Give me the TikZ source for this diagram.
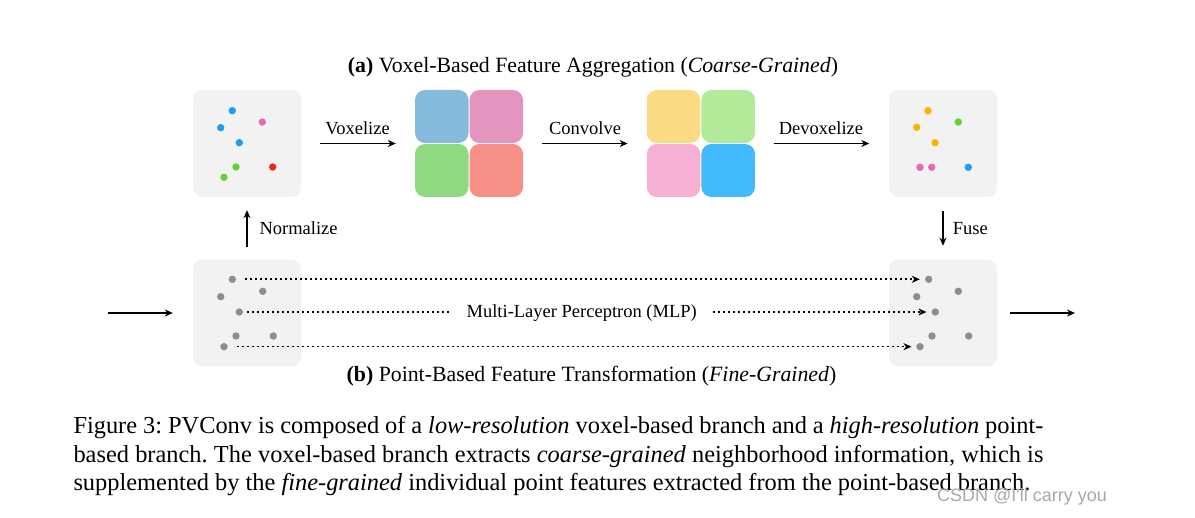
\documentclass[tikz,border=0pt]{standalone}
\usepackage{fontspec}
\setmainfont{Liberation Serif}
\newfontfamily\wmfont{Liberation Sans}
\usetikzlibrary{arrows.meta}
\frenchspacing
\definecolor{boxgray}{HTML}{F2F2F2}
\definecolor{dblue}{HTML}{1A9FF5}
\definecolor{dpink}{HTML}{EC67B0}
\definecolor{dgreen}{HTML}{62D334}
\definecolor{dred}{HTML}{EA2A15}
\definecolor{dorange}{HTML}{F7B500}
\definecolor{dgray}{HTML}{8E8E8E}
\definecolor{vA}{HTML}{84BADB}
\definecolor{vB}{HTML}{E495BF}
\definecolor{vC}{HTML}{8FD980}
\definecolor{vD}{HTML}{F69086}
\definecolor{wA}{HTML}{FADB84}
\definecolor{wB}{HTML}{B3EA9A}
\definecolor{wC}{HTML}{F7B0D5}
\definecolor{wD}{HTML}{43BAFE}
\definecolor{wmgray}{HTML}{A8A8A8}
\tikzset{
  panel/.style={rounded corners=9pt, fill=boxgray, minimum width=108pt, minimum height=107pt, inner sep=0pt},
  gridframe/.style={minimum width=108pt, minimum height=107pt, inner sep=0pt},
  cell/.style={rounded corners=10pt, minimum width=53.5pt, minimum height=53pt, inner sep=0pt},
  pdot/.style={circle, inner sep=0pt, minimum size=7.4pt},
  arr/.style={line width=1.5pt, -{Stealth[length=8pt,width=7pt]}},
  dotline/.style={line width=1.6pt, dash pattern=on 1.6pt off 3.4pt},
  dotarr/.style={dotline, -{Stealth[length=8pt,width=7pt]}},
  lbl/.style={font=\fontsize{18.5}{22}\selectfont, inner sep=0pt},
  ttl/.style={font=\fontsize{21.8}{26}\selectfont, inner sep=0pt},
  capt/.style={font=\fontsize{24.4}{29}\selectfont, inner sep=0pt},
  wm/.style={font=\wmfont\fontsize{18}{21}\selectfont, text=wmgray, inner sep=0pt}
}
\begin{document}
\begin{tikzpicture}[x=1pt,y=-1pt]
\useasboundingbox (0,0) rectangle (1195,518);
% titles
\node[ttl, anchor=base] (ta) at (593,72.3) {\textbf{(a)} Voxel-Based Feature Aggregation (\textit{Coarse-Grained})};
\node[ttl, anchor=base] (tb) at (591.5,382) {\textbf{(b)} Point-Based Feature Transformation (\textit{Fine-Grained})};
% panels
\node[panel] (tl) at (247,143.5) {};
\node[panel] (tr) at (943,143.5) {};
\node[panel] (bl) at (247,313) {};
\node[panel] (br) at (943,313) {};
% grids
\node[gridframe] (g1) at (469,143.5) {};
\node[cell, fill=vA] (g1a) at (441.75,116.5) {};
\node[cell, fill=vB] (g1b) at (496.25,116.5) {};
\node[cell, fill=vC] (g1c) at (441.75,170.5) {};
\node[cell, fill=vD] (g1d) at (496.25,170.5) {};
\node[gridframe] (g2) at (700.85,143.5) {};
\node[cell, fill=wA] (g2a) at (673.5,116.5) {};
\node[cell, fill=wB] (g2b) at (728.2,116.5) {};
\node[cell, fill=wC] (g2c) at (673.5,170.5) {};
\node[cell, fill=wD] (g2d) at (728.2,170.5) {};
% top-left dots
\node[pdot, fill=dblue] (a1) at (232.3,110.7) {};
\node[pdot, fill=dblue] (a2) at (220.7,127.7) {};
\node[pdot, fill=dpink] (a3) at (262.3,122) {};
\node[pdot, fill=dblue] (a4) at (239.3,142.7) {};
\node[pdot, fill=dgreen] (a5) at (236,167) {};
\node[pdot, fill=dred] (a6) at (272.7,167) {};
\node[pdot, fill=dgreen] (a7) at (224,177.3) {};
% top-right dots
\node[pdot, fill=dorange] (b1) at (928,110.7) {};
\node[pdot, fill=dorange] (b2) at (916.7,127.3) {};
\node[pdot, fill=dgreen] (b3) at (958.3,122) {};
\node[pdot, fill=dorange] (b4) at (935,142.7) {};
\node[pdot, fill=dpink] (b5) at (920,167.3) {};
\node[pdot, fill=dpink] (b6) at (931.7,167.3) {};
\node[pdot, fill=dblue] (b7) at (968.3,167.3) {};
% bottom-left dots
\node[pdot, fill=dgray] (l1) at (232.3,279.3) {};
\node[pdot, fill=dgray] (l2) at (220.7,296.7) {};
\node[pdot, fill=dgray] (l3) at (262.7,291.3) {};
\node[pdot, fill=dgray] (l4) at (239.3,312) {};
\node[pdot, fill=dgray] (l5) at (236,336) {};
\node[pdot, fill=dgray] (l6) at (273.3,336) {};
\node[pdot, fill=dgray] (l7) at (224,346.7) {};
% bottom-right dots
\node[pdot, fill=dgray] (r1) at (928.7,279.3) {};
\node[pdot, fill=dgray] (r2) at (916.7,296.7) {};
\node[pdot, fill=dgray] (r3) at (958.3,291.3) {};
\node[pdot, fill=dgray] (r4) at (935.3,312) {};
\node[pdot, fill=dgray] (r5) at (932,336) {};
\node[pdot, fill=dgray] (r6) at (968.7,336) {};
\node[pdot, fill=dgray] (r7) at (920,346.7) {};
% top arrows
\draw[arr, shorten <=19pt, shorten >=19pt] (tl.east) -- (g1.west);
\draw[arr, shorten <=19pt, shorten >=19pt] (g1.east) -- (g2.west);
\draw[arr, shorten <=18.5pt, shorten >=19.5pt] (g2.east) -- (tr.west);
\node[lbl, anchor=base] (lv) at (357.5,135) {Voxelize};
\node[lbl, anchor=base] (lc) at (585,135) {Convolve};
\node[lbl, anchor=base] (ld) at (821,135) {Devoxelize};
% vertical arrows
\draw[arr, shorten <=12.6pt, shorten >=13pt] (bl.north) -- (tl.south);
\node[lbl, anchor=base west] (ln) at (259.3,234.3) {Normalize};
\draw[arr, shorten <=13.7pt, shorten >=13.6pt] (tr.south) -- (br.north);
\node[lbl, anchor=base west] (lf) at (952.7,234.3) {Fuse};
% input / output
\coordinate (cin) at (108,313);
\coordinate (cout) at (1075,313);
\draw[arr, shorten >=20pt] (cin) -- (cin -| bl.west);
\draw[arr, shorten <=12.6pt] (br.east |- cout) -- (cout);
% MLP rows
\node[lbl, anchor=base, text height=12pt, text depth=0pt, inner xsep=16pt] (mlp) at (581.7,317.3) {Multi-Layer Perceptron (MLP)};
\draw[dotarr] ([xshift=9pt]l1.east) -- ([xshift=-5pt]r1.west);
\draw[dotline] ([xshift=4pt]l4.east) -- (l4.east -| mlp.west);
\draw[dotarr] (r4.west -| mlp.east) -- ([xshift=-5pt]r4.west);
\draw[dotarr] ([xshift=9pt]l7.east) -- ([xshift=-4.6pt]r7.west);
% caption
\node[capt, anchor=base west] (c1) at (73.3,433.5) {\makebox[970pt][s]{Figure 3: PVConv is composed of a \textit{low-resolution} voxel-based branch and a \textit{high-resolution} point-}};
\node[capt, anchor=base west] (c2) at (73.3,462.5) {\makebox[970pt][s]{based branch. The voxel-based branch extracts \textit{coarse-grained} neighborhood information, which is}};
\node[capt, anchor=base west] (c3) at (73.3,491) {supplemented by the \textit{fine-grained} individual point features extracted from the point-based branch.};
\node[wm, anchor=base west] (wmk) at (937,501.7) {CSDN @I'll carry you};
\end{tikzpicture}
\end{document}
